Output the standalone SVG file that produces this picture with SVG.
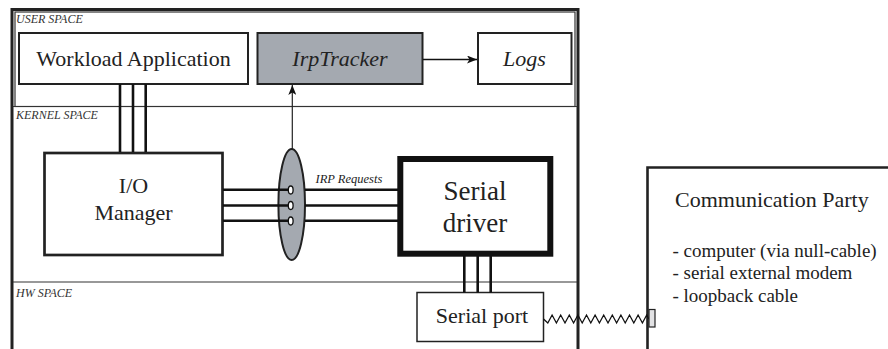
<svg xmlns="http://www.w3.org/2000/svg" width="888" height="349" viewBox="0 0 888 349" font-family="'Liberation Serif', 'DejaVu Serif', serif">
  <defs>
    <marker id="arrow" viewBox="0 0 10 8" refX="10" refY="4" markerWidth="10" markerHeight="8" markerUnits="userSpaceOnUse" orient="auto">
      <path d="M0,0 L10,4 L0,8 L2.5,4 Z" fill="#111"/>
    </marker>
  </defs>
  <style>
    text { font-family: "Liberation Serif", "DejaVu Serif", serif; fill: #222; }
    .space { font-size: 12px; font-style: italic; fill: #333; }
    .label { font-size: 22px; }
    .box { fill: #fff; stroke: #222; stroke-width: 2; }
    .gray { fill: #a4a9b0; stroke: #222; stroke-width: 2; }
    .bus { stroke: #111; stroke-width: 2.6; fill: none; }
    .thin { stroke: #333; stroke-width: 1.2; fill: none; }
  </style>

  <rect width="888" height="349" fill="#fff"/>

  <!-- system frame and space partitions -->
  <g id="frame">
    <path d="M12,352 V9.5 H578 V352" fill="none" stroke="#222" stroke-width="3"/>
    <rect x="15" y="12" width="560" height="94.5" class="thin"/>
    <line x1="13" y1="106.5" x2="577" y2="106.5" class="thin"/>
    <line x1="13" y1="282" x2="577" y2="282" class="thin"/>
    <text x="16" y="22.5" class="space">USER SPACE</text>
    <text x="16" y="119" class="space">KERNEL SPACE</text>
    <text x="16" y="297" class="space">HW SPACE</text>
  </g>

  <g id="workload">
    <rect x="19" y="33" width="229" height="51" class="box"/>
    <text x="133.5" y="66" text-anchor="middle" class="label">Workload Application</text>
  </g>

  <g id="irptracker">
    <rect x="257.5" y="33" width="165" height="51" class="gray"/>
    <text x="340" y="66" text-anchor="middle" class="label" font-style="italic">IrpTracker</text>
  </g>

  <g id="logs">
    <rect x="478" y="33" width="93.5" height="51" class="box"/>
    <text x="524.5" y="66" text-anchor="middle" class="label" font-style="italic">Logs</text>
  </g>

  <g id="io-manager">
    <rect x="44.5" y="153" width="178" height="102" fill="#fff" stroke="#222" stroke-width="2.7"/>
    <text x="133.5" y="193" text-anchor="middle" class="label">I/O</text>
    <text x="133.5" y="220" text-anchor="middle" class="label">Manager</text>
  </g>

  <g id="filter">
    <ellipse cx="291.7" cy="204.5" rx="13.3" ry="55.5" class="gray" stroke-width="1.6"/>
    <ellipse cx="290.7" cy="190" rx="2.4" ry="4" fill="#fff" stroke="#111" stroke-width="1.3"/>
    <ellipse cx="290.7" cy="205.5" rx="2.4" ry="4" fill="#fff" stroke="#111" stroke-width="1.3"/>
    <ellipse cx="290.7" cy="221" rx="2.4" ry="4" fill="#fff" stroke="#111" stroke-width="1.3"/>
  </g>

  <g id="serial-driver">
    <rect x="400.3" y="159" width="150" height="94.7" fill="#fff" stroke="#111" stroke-width="6"/>
    <text x="475" y="200" text-anchor="middle" font-size="27">Serial</text>
    <text x="475" y="231.5" text-anchor="middle" font-size="27">driver</text>
  </g>

  <g id="serial-port">
    <rect x="417" y="292.5" width="126.5" height="49" fill="#fff" stroke="#222" stroke-width="1.5"/>
    <text x="482" y="322.5" text-anchor="middle" class="label">Serial port</text>
  </g>

  <g id="communication-party">
    <path d="M647.5,352 V167.5 H892" fill="none" stroke="#222" stroke-width="2.6"/>
    <text x="675" y="207" class="label">Communication Party</text>
    <text x="672.5" y="256.5" font-size="19">- computer (via null-cable)</text>
    <text x="672.5" y="279" font-size="19">- serial external modem</text>
    <text x="672.5" y="301.5" font-size="19">- loopback cable</text>
  </g>

  <g id="connectors">
    <!-- application to I/O manager -->
    <line x1="120" y1="84" x2="120" y2="152" class="bus"/>
    <line x1="133" y1="84" x2="133" y2="152" class="bus"/>
    <line x1="145.7" y1="84" x2="145.7" y2="152" class="bus"/>
    <!-- I/O manager to filter -->
    <line x1="223" y1="189.7" x2="288.3" y2="189.7" class="bus"/>
    <line x1="223" y1="205.5" x2="288.3" y2="205.5" class="bus"/>
    <line x1="223" y1="220.8" x2="288.3" y2="220.8" class="bus"/>
    <!-- filter to serial driver -->
    <line x1="305" y1="189.7" x2="398" y2="189.7" class="bus"/>
    <line x1="305" y1="205.5" x2="398" y2="205.5" class="bus"/>
    <line x1="305" y1="220.8" x2="398" y2="220.8" class="bus"/>
    <text x="315.5" y="183.3" font-size="12.5" font-style="italic" fill="#444">IRP Requests</text>
    <!-- serial driver to port -->
    <line x1="464.3" y1="256" x2="464.3" y2="292.5" class="bus"/>
    <line x1="477.7" y1="256" x2="477.7" y2="292.5" class="bus"/>
    <line x1="490.7" y1="256" x2="490.7" y2="292.5" class="bus"/>
    <!-- filter reports to tracker -->
    <line x1="292.3" y1="149.5" x2="292.3" y2="85" stroke="#222" stroke-width="1.2" marker-end="url(#arrow)"/>
    <!-- tracker writes logs -->
    <line x1="423" y1="59.5" x2="477" y2="59.5" stroke="#111" stroke-width="1.5" marker-end="url(#arrow)"/>
    <!-- serial cable -->
    <polyline points="543.5,319 547.8,323 552.1,315 556.4,323 560.7,315 565,323 569.3,315 573.6,323 577.9,315 582.2,323 586.5,315 590.8,323 595.1,315 599.4,323 603.7,315 608,323 612.3,315 616.6,323 620.9,315 625.2,323 629.5,315 633.8,323 638.1,315 642.4,323 646.7,315 649,319" fill="none" stroke="#111" stroke-width="1.3"/>
    <rect x="649" y="309.5" width="6" height="17.5" fill="#e2e2e4" stroke="#222" stroke-width="1.2"/>
  </g>
</svg>
